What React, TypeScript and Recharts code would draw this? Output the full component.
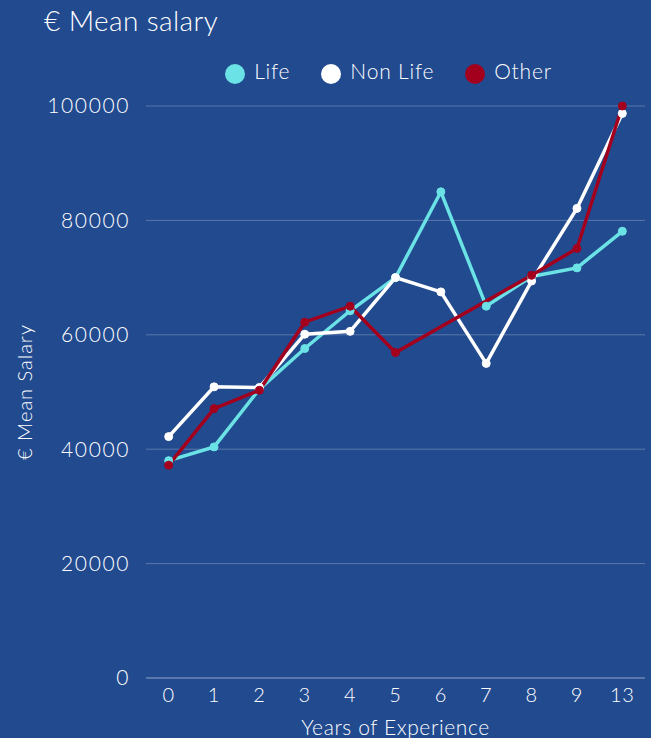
import { LineChart, Line, XAxis, YAxis, CartesianGrid, Legend } from "recharts";

const years = ["0", "1", "2", "3", "4", "5", "6", "7", "8", "9", "13"];
const life = [38000, 40400, 50500, 57600, 64200, 70000, 85000, 65000, 70200, 71700, 78100];
const nonLife = [42200, 50900, 50800, 60100, 60600, 70000, 67500, 55000, 69400, 82100, 98700];
// no "Other" observations for 6 and 7 years
const other = [37200, 47100, 50300, 62200, 65000, 56900, null, null, 70400, 75100, 100000];
const yTicks = [0, 20000, 40000, 60000, 80000, 100000];

const data = years.map((y, i) => ({
  year: y,
  life: life[i],
  nonLife: nonLife[i],
  other: other[i],
}));

const BG = "#224a8f";
const FONT = "Lato, 'Open Sans', sans-serif";

const App = () => {
  return (
    <div
      style={{
        position: "fixed",
        top: 0,
        left: 0,
        width: 651,
        height: 738,
        background: BG,
        fontFamily: FONT,
        fontWeight: 300,
        overflow: "hidden",
      }}
    >
      <div style={{ position: "absolute", left: 44, top: 3, fontSize: 28, letterSpacing: 0.4, color: "#fff" }}>
        € Mean salary
      </div>
      <LineChart width={651} height={738} data={data} margin={{ top: 106, right: 6, bottom: 0, left: 0 }}>
        <CartesianGrid vertical={false} stroke="rgba(255,255,255,0.25)" />
        <XAxis
          dataKey="year"
          scale="band"
          height={60}
          axisLine={{ stroke: "rgba(255,255,255,0.3)" }}
          tickLine={false}
          tick={{ fill: "#fff", fontSize: 20, fontFamily: FONT, letterSpacing: 0.8 }}
          tickMargin={4}
          label={{ value: "Years of Experience", position: "insideBottom", offset: 3, fill: "#fff", fontSize: 21, fontFamily: FONT, letterSpacing: 0.6 }}
        />
        <YAxis
          width={146}
          domain={[0, 100000]}
          ticks={yTicks}
          axisLine={false}
          tickLine={false}
          tickMargin={10}
          tick={{ fill: "#fff", fontSize: 21, fontFamily: FONT, letterSpacing: 1.6 }}
          label={{ value: "€ Mean Salary", angle: -90, position: "insideLeft", offset: 25, fill: "#fff", fontSize: 20, fontFamily: FONT, letterSpacing: 1, style: { textAnchor: "middle" } }}
        />
        <Legend
          verticalAlign="middle"
          align="center"
          iconType="circle"
          iconSize={20}
          wrapperStyle={{ top: 58, left: 0, width: 808, fontSize: 21, fontFamily: FONT, letterSpacing: 0.8 }}
          formatter={(value) => <span style={{ color: "#fff", paddingLeft: 5, paddingRight: 21 }}>{value}</span>}
        />
        <Line
          name="Life"
          dataKey="life"
          stroke="#6be3e6"
          strokeWidth={3.5}
          dot={{ r: 4, fill: "#6be3e6", stroke: "#6be3e6", strokeWidth: 1 }}
          activeDot={false}
          isAnimationActive={false}
        />
        <Line
          name="Non Life"
          dataKey="nonLife"
          stroke="#ffffff"
          strokeWidth={3.5}
          dot={{ r: 4, fill: "#ffffff", stroke: "#ffffff", strokeWidth: 1 }}
          activeDot={false}
          isAnimationActive={false}
        />
        <Line
          name="Other"
          dataKey="other"
          stroke="#a3001e"
          strokeWidth={3.5}
          connectNulls
          dot={{ r: 4, fill: "#a3001e", stroke: "#a3001e", strokeWidth: 1 }}
          activeDot={false}
          isAnimationActive={false}
        />
      </LineChart>
    </div>
  );
};

export default App;
